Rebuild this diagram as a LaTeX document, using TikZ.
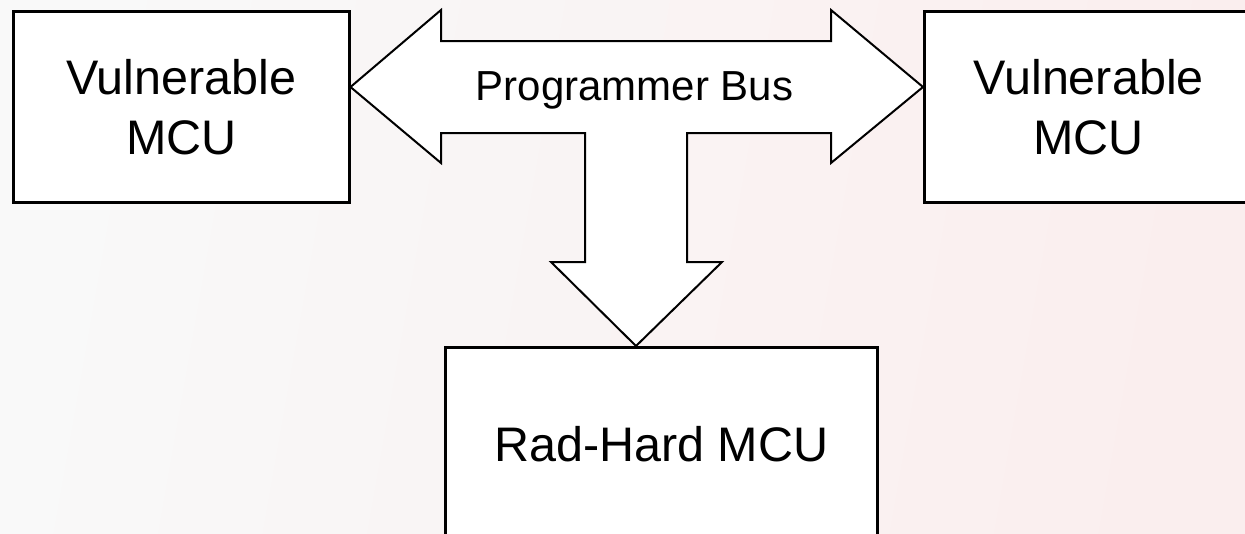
\documentclass[tikz,border=0pt]{standalone}
\usepackage{fontspec}
\setmainfont{Liberation Sans}
\begin{document}
\begin{tikzpicture}[x=1pt,y=-1pt,
  mcubox/.style={draw=black, line width=2.5pt, fill=white, anchor=north west, inner sep=0pt,
    align=center, font=\fontsize{48.5}{60}\selectfont},
  busarrow/.style={draw=black, line width=2pt, fill=white, line join=miter},
  buslabel/.style={font=\fontsize{42}{48}\selectfont, inner sep=0pt}]
\useasboundingbox (0,0) rectangle (1245,533);
\shade[left color={rgb,255:red,249;green,249;blue,249}, right color={rgb,255:red,250;green,238;blue,238}, shading angle=80] (0,0) rectangle (1245,533);
% boxes
\node[mcubox, minimum width=336pt, minimum height=191pt] (L) at (12,10) {Vulnerable\\MCU};
\node[mcubox, minimum width=329pt, minimum height=191pt] (R) at (923,10) {Vulnerable\\MCU};
\node[mcubox, minimum width=432pt, minimum height=194pt] (B) at (444,346) {Rad-Hard MCU};
% block arrow (bus)
\coordinate (lt) at (L.east |- 0,87);
\coordinate (rt) at (R.west |- 0,87);
\coordinate (bt) at (636,0 |- B.north);
\draw[busarrow] (lt) -- (441,10) -- (441,41) -- (831,41) -- (831,10) -- (rt)
  -- (831,163) -- (831,133) -- (687,133) -- (687,262) -- (722,262) -- (bt)
  -- (551,262) -- (585,262) -- (585,133) -- (441,133) -- (441,163) -- cycle;
\node[buslabel] (bus) at (634.5,90.5) {Programmer Bus};
\end{tikzpicture}
\end{document}
